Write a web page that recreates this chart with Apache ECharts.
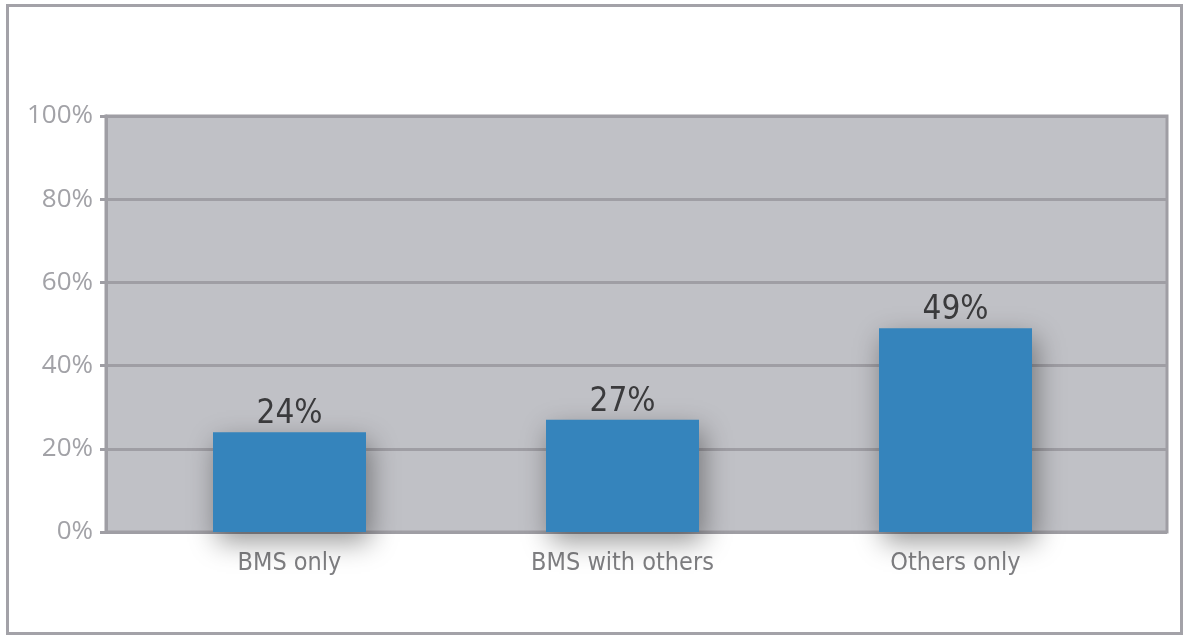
<!DOCTYPE html>
<html>
<head>
<meta charset="utf-8">
<script src="https://cdn.jsdelivr.net/npm/echarts@6/dist/echarts.min.js"></script>
<style>
  html, body { margin: 0; padding: 0; background: #ffffff; }
  #chart { width: 1186px; height: 638px; }
</style>
</head>
<body>
<div id="chart"></div>
<script>
// Share of respondents by BMS usage
const categories = ['BMS only', 'BMS with others', 'Others only'];
const shares = [24, 27, 49];
const yTicks = [0, 20, 40, 60, 80, 100];

const chart = echarts.init(document.getElementById('chart'));

const plotTop = 116, plotBottom = 106;

chart.setOption({
  animation: false,
  graphic: [{
    type: 'rect',
    shape: { x: 7.5, y: 5.5, width: 1174, height: 628 },
    style: { fill: 'none', stroke: '#a3a2a8', lineWidth: 3 },
    silent: true
  }],
  grid: [
    { // plot panel with value scale
      left: 106, right: 19, top: plotTop, bottom: plotBottom,
      show: true, backgroundColor: '#c0c1c6',
      borderColor: '#9f9ea4', borderWidth: 3
    },
    { // bars
      left: 123, right: 64, top: plotTop, bottom: plotBottom
    }
  ],
  xAxis: [
    { gridIndex: 0, type: 'category', data: [''], show: false },
    {
      gridIndex: 1, type: 'category', data: categories,
      axisLine: { show: false }, axisTick: { show: false },
      axisLabel: {
        margin: 19, color: '#7f7f82', fontSize: 25,
        fontFamily: 'DejaVu Sans Condensed'
      }
    }
  ],
  yAxis: [
    {
      gridIndex: 0, type: 'value', min: yTicks[0], max: yTicks[yTicks.length - 1], interval: 20,
      axisLine: { show: true, lineStyle: { color: '#9f9ea4', width: 3 } },
      axisTick: { show: true, length: 6, lineStyle: { color: '#9f9ea4', width: 3 } },
      axisLabel: {
        margin: 13, color: '#a2a2a7', fontSize: 26, fontFamily: 'Open Sans',
        formatter: v => v + '%'
      },
      splitLine: { show: true, lineStyle: { color: '#9f9ea4', width: 3 } }
    },
    {
      gridIndex: 1, type: 'value', min: 0, max: 100, show: false
    }
  ],
  series: [{
    type: 'bar',
    xAxisIndex: 1, yAxisIndex: 1,
    data: shares,
    barWidth: 153,
    itemStyle: {
      color: '#3584bc',
      shadowColor: 'rgba(0,0,0,0.4)',
      shadowBlur: 26,
      shadowOffsetX: 4,
      shadowOffsetY: 10
    },
    label: {
      show: true, position: 'top', distance: 1,
      color: '#3a3a3c', fontSize: 33, fontFamily: 'DejaVu Sans Condensed',
      formatter: p => p.value + '%'
    }
  }]
});
</script>
</body>
</html>
